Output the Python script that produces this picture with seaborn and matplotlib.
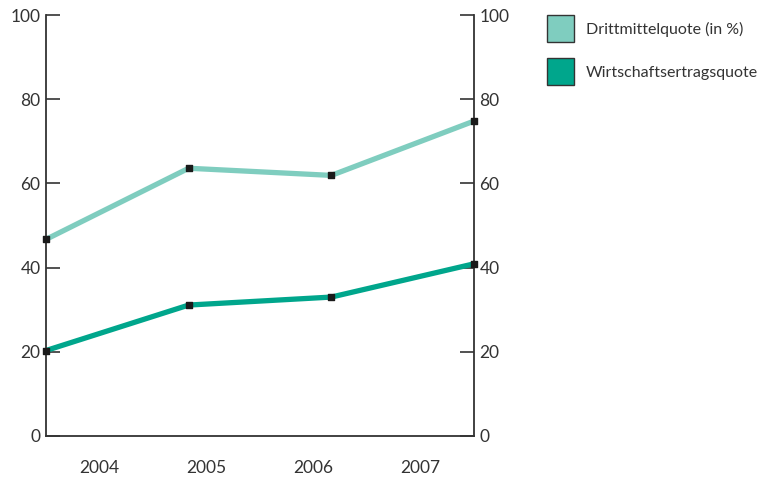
import pandas as pd
import matplotlib.pyplot as plt
import seaborn as sns
from matplotlib.patches import Patch

# Values
years = ['2004', '2005', '2006', '2007']
drittmittel = [46.7, 63.6, 61.9, 74.8]
wirtschaft = [20.3, 31.1, 33.0, 40.9]

df = pd.DataFrame({
    'pos': list(range(len(years))) * 2,
    'value': drittmittel + wirtschaft,
    'series': ['Drittmittelquote (in %)'] * 4 + ['Wirtschaftsertragsquote'] * 4,
})

colors = {'Drittmittelquote (in %)': '#7fcdbf', 'Wirtschaftsertragsquote': '#00a68c'}

sns.set_style('white')
plt.rcParams['font.family'] = ['Lato', 'DejaVu Sans']

fig = plt.figure(figsize=(7.67, 4.79), dpi=100)
ax = fig.add_axes([46 / 767, 43 / 479, 428 / 767, 421 / 479])

sns.lineplot(data=df, x='pos', y='value', hue='series', palette=colors,
             linewidth=3.8, legend=False, ax=ax)
ax.scatter(df['pos'], df['value'], marker='s', s=22, color='#1a1a1a', zorder=5, clip_on=False)

ax.set_xlim(0, 3)
ax.set_ylim(0, 100)
ax.set_xlabel('')
ax.set_ylabel('')

ax.set_xticks([0, 0.75, 1.5, 2.25, 3])
ax.set_xticklabels([])
ax.set_xticks([0.375, 1.125, 1.875, 2.625], minor=True)
ax.set_xticklabels(years, minor=True)
ax.tick_params(axis='x', which='major', direction='in', length=10, width=1.2, color='#333333')
ax.tick_params(axis='x', which='minor', length=0, pad=17, labelsize=12.5, labelcolor='#333333')

ax.set_yticks([0, 20, 40, 60, 80, 100])
ax.tick_params(axis='y', direction='in', length=10, width=1.2, color='#333333',
               labelsize=12.5, labelcolor='#333333', left=True, right=True,
               labelleft=True, labelright=True, pad=4)

ax.spines['top'].set_visible(False)
for side in ['left', 'right', 'bottom']:
    ax.spines[side].set_visible(True)
    ax.spines[side].set_color('#333333')
    ax.spines[side].set_linewidth(1.3)

handles = [Patch(facecolor=c, edgecolor='#333333', linewidth=1.0, label=k) for k, c in colors.items()]
fig.legend(handles=handles, loc='upper left', bbox_to_anchor=(533 / 767, 1 - 1 / 479),
           frameon=False, fontsize=11.5, handlelength=1.65, handleheight=2.15,
           labelspacing=1.05, handletextpad=0.75, labelcolor='#333333')

fig.savefig('out.png', dpi=100)
